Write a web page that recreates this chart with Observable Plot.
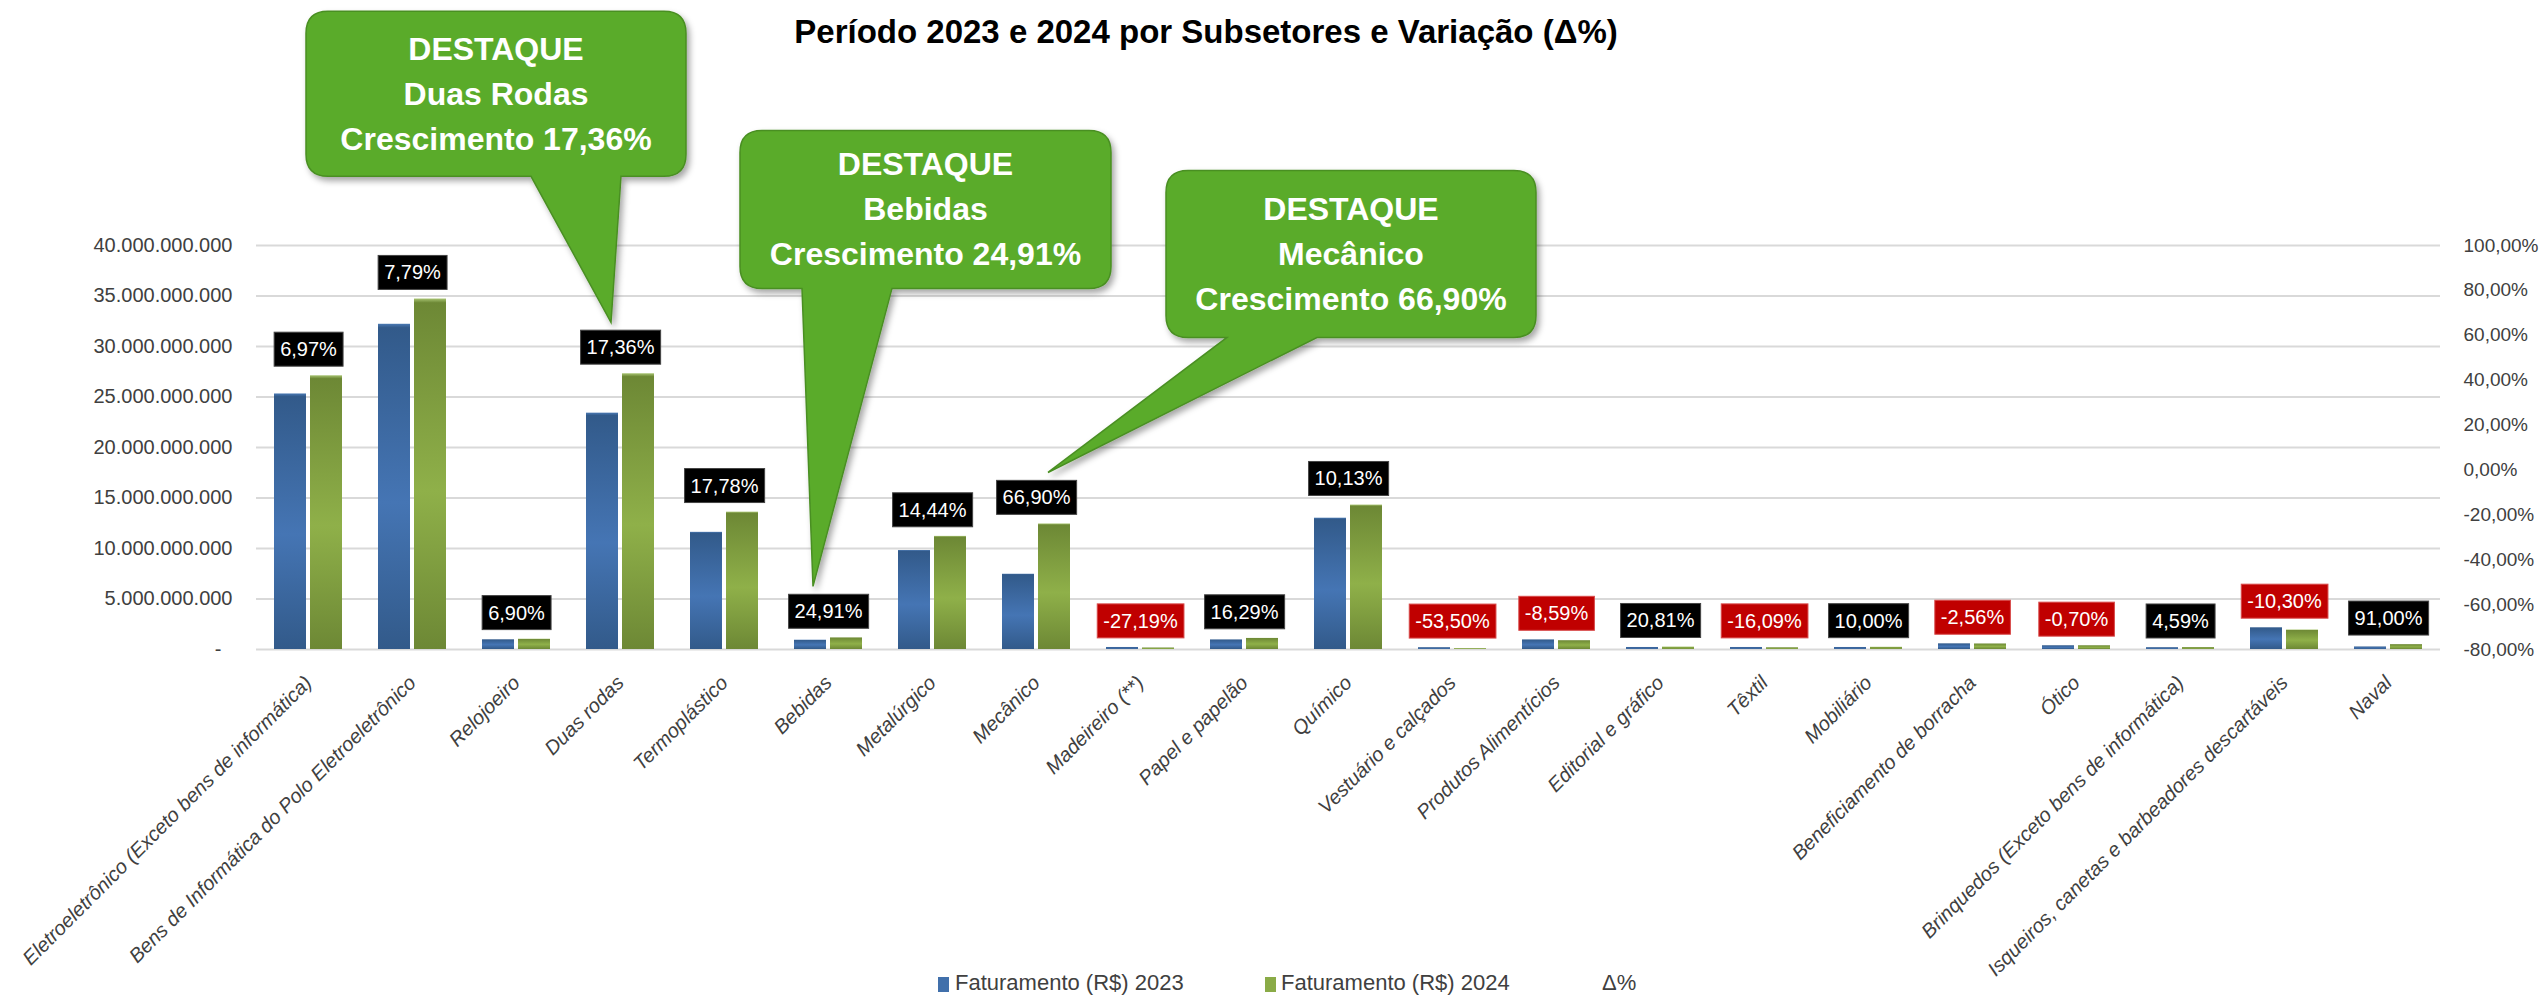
<!DOCTYPE html>
<html lang="pt-BR">
<head>
<meta charset="utf-8">
<script src="https://cdn.jsdelivr.net/npm/d3@7"></script>
<script src="https://cdn.jsdelivr.net/npm/@observablehq/plot@0.6"></script>
<style>
  body { margin: 0; background: #fff; font-family: "Liberation Sans", Arial, sans-serif; }
  #wrap { position: relative; width: 2542px; height: 998px; overflow: hidden; background: #fff; }
  #chart, #right { position: absolute; top: 0; left: 0; }
  #right { pointer-events: none; }
  #title { position: absolute; top: 13px; left: 1206px; transform: translateX(-50%); white-space: nowrap;
           font-weight: bold; font-size: 33px; color: #000; line-height: 38px; }
  #legend { position: absolute; top: 968px; left: 0; width: 2542px; height: 30px; font-size: 22px; color: #404040; }
  #legend .sw { position: absolute; top: 9px; width: 11px; height: 15px; }
  #legend .lt { position: absolute; top: 3px; line-height: 24px; white-space: nowrap; }
  #chart g[aria-label^="fx-axis"] text { font-style: italic; font-size: 20px; }
</style>
</head>
<body>
<div id="wrap">
  <div id="chart"></div>
  <div id="right"></div>
  <div id="title">Período 2023 e 2024 por Subsetores e Variação (Δ%)</div>
  <div id="legend">
    <span class="sw" style="left:938px;background:#4170ab"></span>
    <span class="lt" style="left:955px">Faturamento (R$) 2023</span>
    <span class="sw" style="left:1265px;background:#8aab47"></span>
    <span class="lt" style="left:1281px">Faturamento (R$) 2024</span>
    <span class="lt" style="left:1602px">Δ%</span>
  </div>
</div>
<script>
// ---------- DATA ----------
const categories = [
  "Eletroeletrônico (Exceto bens de informática)",
  "Bens de Informática do Polo Eletroeletrônico",
  "Relojoeiro",
  "Duas rodas",
  "Termoplástico",
  "Bebidas",
  "Metalúrgico",
  "Mecânico",
  "Madeireiro (**)",
  "Papel e papelão",
  "Químico",
  "Vestuário e calçados",
  "Produtos Alimentícios",
  "Editorial e gráfico",
  "Têxtil",
  "Mobiliário",
  "Beneficiamento de borracha",
  "Ótico",
  "Brinquedos (Exceto bens de informática)",
  "Isqueiros, canetas e barbeadores descartáveis",
  "Naval"
];
const faturamento2023 = [25.3e9, 32.2e9, 0.96e9, 23.4e9, 11.6e9, 0.92e9, 9.8e9, 7.45e9, 0.2e9, 0.95e9, 13.0e9,
  0.18e9, 0.95e9, 0.2e9, 0.2e9, 0.2e9, 0.56e9, 0.37e9, 0.18e9, 2.15e9, 0.25e9];
const faturamento2024 = [27.1e9, 34.7e9, 1.02e9, 27.3e9, 13.6e9, 1.15e9, 11.2e9, 12.43e9, 0.15e9, 1.1e9, 14.3e9,
  0.085e9, 0.87e9, 0.24e9, 0.17e9, 0.22e9, 0.55e9, 0.37e9, 0.19e9, 1.93e9, 0.48e9];
const variacao = [6.97, 7.79, 6.90, 17.36, 17.78, 24.91, 14.44, 66.90, -27.19, 16.29, 10.13,
  -53.50, -8.59, 20.81, -16.09, 10.00, -2.56, -0.70, 4.59, -10.30, 91.00];
const anos = ["2023", "2024"];
const yTicks = [0, 5e9, 10e9, 15e9, 20e9, 25e9, 30e9, 35e9, 40e9];
const pctTicks = [-80, -60, -40, -20, 0, 20, 40, 60, 80, 100];
const destaques = [
  {cat: "Duas rodas", linhas: ["DESTAQUE", "Duas Rodas", "Crescimento 17,36%"]},
  {cat: "Bebidas", linhas: ["DESTAQUE", "Bebidas", "Crescimento 24,91%"]},
  {cat: "Mecânico", linhas: ["DESTAQUE", "Mecânico", "Crescimento 66,90%"]}
];

// ---------- FORMATS ----------
const br = d3.formatLocale({decimal: ",", thousands: ".", grouping: [3], currency: ["R$ ", ""]});
const fmtNum = br.format(",.0f");
const fmtY = v => v === 0 ? "-\u00a0\u00a0" : fmtNum(v);
const fmtPct = v => v.toFixed(2).replace(".", ",") + "%";

// ---------- TABLES ----------
const rows = categories.flatMap((c, i) => [
  {cat: c, ano: "2023", valor: faturamento2023[i]},
  {cat: c, ano: "2024", valor: faturamento2024[i]}
]);
const rotulos = categories.map((c, i) => ({cat: c, topo: Math.max(faturamento2023[i], faturamento2024[i]), v: variacao[i]}));

const W = 2542, H = 968, ML = 254, MR = 100, MT = 245, MB = 319;
const font = "'Liberation Sans', Arial, sans-serif";

const chart = Plot.plot({
  width: W, height: H,
  marginLeft: ML, marginRight: MR, marginTop: MT, marginBottom: MB,
  style: {fontFamily: font, fontSize: "20px", color: "#404040", background: "transparent"},
  fx: {domain: categories, padding: 0, label: null, axis: "bottom", tickRotate: -45, tickSize: 0, tickPadding: 30},
  x: {domain: anos, paddingInner: 0.11, paddingOuter: 0.48, axis: null},
  y: {domain: [0, 40e9], ticks: yTicks, tickFormat: fmtY, tickSize: 0, tickPadding: 24, label: null, grid: false},
  marks: [
    Plot.ruleY(yTicks, {stroke: "#d9d9d9", strokeWidth: 2}),
    Plot.barY(rows.filter(d => d.ano === "2023"), {fx: "cat", x: "ano", y: "valor", fill: "url(#gradAzul)"}),
    Plot.barY(rows.filter(d => d.ano === "2024"), {fx: "cat", x: "ano", y: "valor", fill: "url(#gradVerde)"}),
    Plot.text(rotulos, {fx: "cat", y: "topo", text: d => fmtPct(d.v), dy: -26, fill: "white",
      fontSize: 20, lineAnchor: "middle"})
  ]
});
document.getElementById("chart").appendChild(chart);

const right = Plot.plot({
  width: W, height: H,
  marginLeft: ML, marginRight: MR, marginTop: MT, marginBottom: MB,
  style: {fontFamily: font, fontSize: "19px", color: "#404040", background: "transparent"},
  x: {axis: null},
  y: {domain: [-80, 100], axis: "right", ticks: pctTicks, tickFormat: fmtPct, tickSize: 0, tickPadding: 21, label: null},
  marks: [Plot.ruleY(pctTicks, {strokeOpacity: 0})]
});
document.getElementById("right").appendChild(right);

// ---------- DECORATION ----------
const svg = d3.select(chart).style("overflow", "visible");
const defs = svg.insert("defs", ":first-child");
function grad(id, stops) {
  const g = defs.append("linearGradient").attr("id", id).attr("x1", 0).attr("y1", 0).attr("x2", 0).attr("y2", 1);
  stops.forEach(([o, c]) => g.append("stop").attr("offset", o).attr("stop-color", c));
}
grad("gradAzul", [[0, "#4a79b3"], [0.012, "#325a8a"], [0.55, "#4575b4"], [1, "#325a8a"]]);
grad("gradVerde", [[0, "#a8c472"], [0.012, "#6d8835"], [0.55, "#8fb049"], [1, "#6d8835"]]);
const f = defs.append("filter").attr("id", "sombra").attr("x", "-10%").attr("y", "-10%").attr("width", "130%").attr("height", "130%");
f.append("feDropShadow").attr("dx", 3).attr("dy", 4).attr("stdDeviation", 3).attr("flood-color", "#000").attr("flood-opacity", 0.35);

// label boxes behind the Δ% texts (sized from the rendered text)
const pctRe = /^-?\d+,\d\d%$/;
svg.selectAll("text").filter(function () { return pctRe.test(this.textContent.trim()); }).each(function () {
  const b = this.getBBox();
  const neg = this.textContent.trim().startsWith("-");
  const cy = b.y + b.height / 2;
  const r = document.createElementNS("http://www.w3.org/2000/svg", "rect");
  r.setAttribute("x", b.x - 6);
  r.setAttribute("y", cy - 17);
  r.setAttribute("width", b.width + 12);
  r.setAttribute("height", 34);
  if (this.getAttribute("transform")) r.setAttribute("transform", this.getAttribute("transform"));
  r.setAttribute("fill", neg ? "#c00000" : "#000");
  r.setAttribute("stroke", neg ? "#d84a4a" : "#444");
  r.setAttribute("stroke-width", 1);
  this.parentNode.insertBefore(r, this);
});

// callouts
const sfx = chart.scale("fx"), sy = chart.scale("y");
const layout = [
  {tipDx: -9, dx: -305, dy: -311, w: 380, h: 165, b0: -80, b1: 10},
  {tipDx: -15, dx: -73, dy: -456, w: 371, h: 158, b0: -11, b1: 79},
  {tipDx: 12, dx: 118, dy: -302, w: 370, h: 167, b0: 179, b1: 269}
];
const gC = svg.append("g").attr("aria-label", "destaques");
destaques.forEach((d, k) => {
  const L = layout[k];
  const i = categories.indexOf(d.cat);
  const cx = sfx.apply(d.cat) + sfx.bandwidth / 2;
  const tx = cx + L.tipDx;
  const ty = sy.apply(rotulos[i].topo) - 26 - 17 - 8;
  const x0 = tx + L.dx, y0 = ty + L.dy, x1 = x0 + L.w, y1 = y0 + L.h, r = 22;
  const bx0 = tx + L.b0, bx1 = tx + L.b1;
  const p = `M${x0 + r},${y0} H${x1 - r} Q${x1},${y0} ${x1},${y0 + r} V${y1 - r} Q${x1},${y1} ${x1 - r},${y1}
    H${bx1} L${tx},${ty} L${bx0},${y1} H${x0 + r} Q${x0},${y1} ${x0},${y1 - r} V${y0 + r} Q${x0},${y0} ${x0 + r},${y0} Z`;
  gC.append("path").attr("d", p).attr("fill", "#5aab2b").attr("stroke", "#4a8f23").attr("stroke-width", 1.5)
    .attr("filter", "url(#sombra)");
  const cy = (y0 + y1) / 2;
  d.linhas.forEach((t, j) => {
    gC.append("text").attr("x", (x0 + x1) / 2).attr("y", cy + (j - 1) * 45)
      .attr("text-anchor", "middle").attr("dominant-baseline", "central")
      .attr("fill", "#fff").attr("font-weight", "bold").attr("font-size", 32).attr("font-family", font)
      .text(t);
  });
});
</script>
</body>
</html>
